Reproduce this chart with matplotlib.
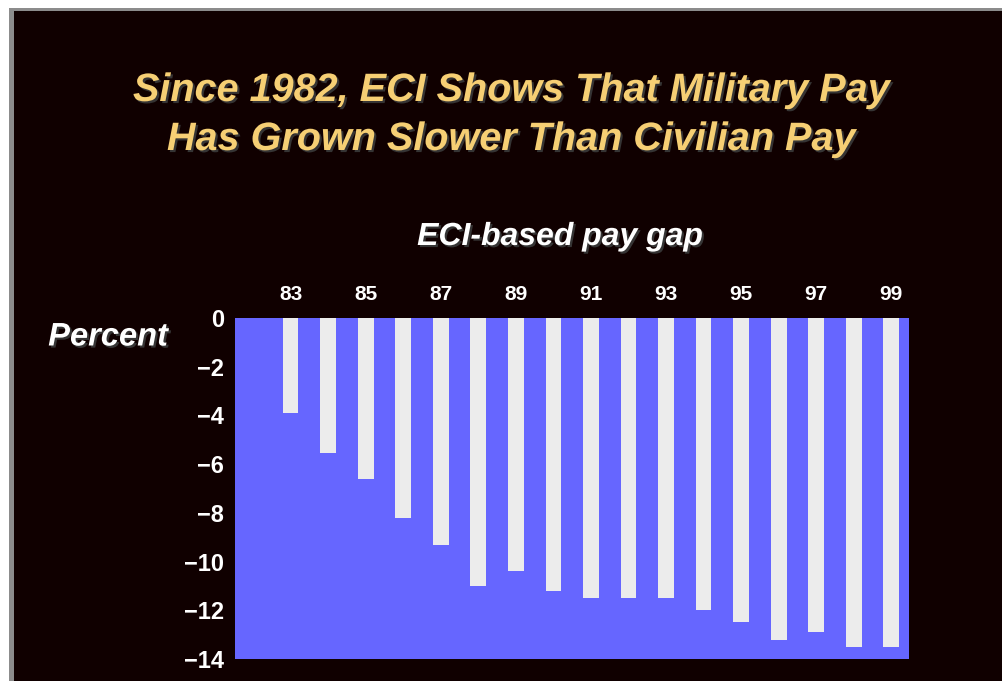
"""ECI-based military vs civilian pay gap, 1983-1999."""

import matplotlib

matplotlib.use("Agg")
import matplotlib.pyplot as plt
import matplotlib.patheffects as pe
from matplotlib.patches import Rectangle

# Data
years = [83, 84, 85, 86, 87, 88, 89, 90, 91, 92, 93, 94, 95, 96, 97, 98, 99]
pay_gap = [-3.9, -5.55, -6.6, -8.2, -9.3, -11.0, -10.4, -11.2, -11.5, -11.5,
           -11.5, -12.0, -12.5, -13.2, -12.9, -13.5, -13.5]
year_labels = ["83", "85", "87", "89", "91", "93", "95", "97", "99"]
y_ticks = [0, -2, -4, -6, -8, -10, -12, -14]

title_lines = ["Since 1982, ECI Shows That Military Pay",
               "Has Grown Slower Than Civilian Pay"]
subtitle = "ECI-based pay gap"
y_label = "Percent"

BG = "#100000"
PLOT_BG = "#6666ff"
BAR = "#ececec"
GOLD = "#f6cf74"
FONT = "Liberation Sans"

W, H = 1003, 681
fig = plt.figure(figsize=(W / 100, H / 100), dpi=100)
fig.patch.set_facecolor("white")

# light frame on the top and left, dark slide background
fig.patches.append(Rectangle((9 / W, 0), 1, 1 - 8 / H, transform=fig.transFigure,
                             facecolor="#8c8c8c", edgecolor="none", zorder=-3))
fig.patches.append(Rectangle((14 / W, 0), 1, 1 - 11 / H, transform=fig.transFigure,
                             facecolor=BG, edgecolor="none", zorder=-2))

ax = fig.add_axes([235 / W, 1 - 659 / H, 674 / W, 341 / H])
ax.set_facecolor(PLOT_BG)

x = list(range(len(years)))
ax.bar(x, pay_gap, width=0.42, bottom=0, color=BAR, edgecolor="none", zorder=2)

ax.set_xlim(-1.48, len(years) - 1 + 0.47)
ax.set_ylim(-14, 0)

ax.xaxis.tick_top()
ax.set_xticks([x[years.index(int(s))] for s in year_labels])
ax.set_xticklabels(year_labels)
ax.set_yticks(y_ticks)
ax.set_yticklabels([f"{v}".replace("-", "\u2212") for v in y_ticks])
ax.tick_params(axis="x", length=0, pad=10, colors="white", labelsize=15)
ax.tick_params(axis="y", length=0, pad=8, colors="white", labelsize=17)
for lab in ax.get_xticklabels() + ax.get_yticklabels():
    lab.set_fontfamily(FONT)
    lab.set_fontweight("bold")

for side in ax.spines.values():
    side.set_visible(False)

shadow = [pe.withSimplePatchShadow(offset=(1.5, -1.5), shadow_rgbFace="#3a3a3a", alpha=0.9)]

for yy, line in zip([90 / H, 139 / H], title_lines):
    fig.text(0.51, 1 - yy, line, ha="center", va="center", color=GOLD,
             fontsize=28.5, fontweight="bold", style="italic", family=FONT,
             path_effects=shadow)

fig.text(560 / W, 1 - 237 / H, subtitle, ha="center", va="center", color="white",
         fontsize=23, fontweight="bold", style="italic", family=FONT, path_effects=shadow)
fig.text(108 / W, 1 - 337 / H, y_label, ha="center", va="center", color="white",
         fontsize=23.5, fontweight="bold", style="italic", family=FONT, path_effects=shadow)

fig.savefig("out.png", dpi=100, facecolor=fig.get_facecolor())
